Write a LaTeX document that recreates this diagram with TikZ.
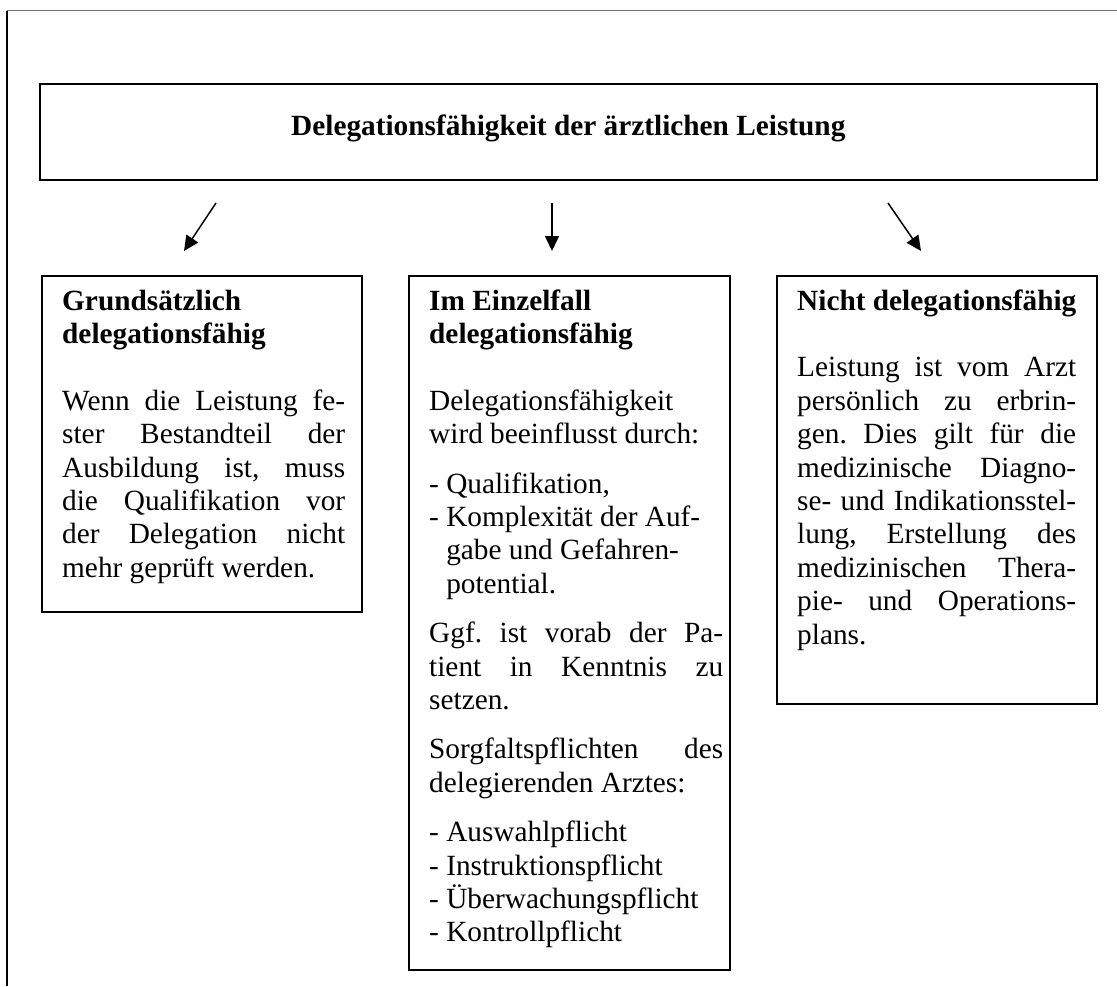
\documentclass[tikz,border=0pt]{standalone}
\usepackage{fontspec}
\setmainfont{Liberation Serif}
\usetikzlibrary{arrows.meta}
\frenchspacing
% one justified line of a given width
\newcommand{\jl}[2]{\makebox[#1][s]{#2}}
\begin{document}
\begin{tikzpicture}[x=1pt,y=-1pt,
  box/.style={draw=black, line width=1.6pt, inner sep=0pt, anchor=north west},
  txt/.style={anchor=north west, inner sep=0pt, align=left,
              font=\fontsize{29.3pt}{33.4pt}\selectfont},
  arr/.style={line width=1.5pt, -{Triangle[length=15pt,width=14pt]}}]
\useasboundingbox (0,0) rectangle (1117,986);

% page frame
\draw[black!55, line width=1.2pt] (7,10.5) -- (1117,10.5);
\draw[black, line width=1.2pt] (7,10.5) -- (7,986);

% boxes
\node[box, minimum width=1057pt, minimum height=96pt] (head) at (39,83) {};
\node[box, minimum width=320pt, minimum height=336pt] (lbox) at (41,275) {};
\node[box, minimum width=321pt, minimum height=694pt] (mbox) at (408,275) {};
\node[box, minimum width=320pt, minimum height=428pt] (rbox) at (776,275) {};

% title
\node[anchor=base, yshift=-4pt, inner sep=0pt,
      font=\fontsize{29.3pt}{33.4pt}\selectfont\bfseries] (title) at (head.center)
  {Delegationsfähigkeit der ärztlichen Leistung};

% arrows
\coordinate (a1s) at (216,203); \coordinate (a1e) at (184,251);
\coordinate (a2s) at (552,203); \coordinate (a2e) at (552,251);
\coordinate (a3s) at (888,203); \coordinate (a3e) at (921,251);
\draw[arr] (a1s) -- (a1e);
\draw[arr] (a2s) -- (a2e);
\draw[arr] (a3s) -- (a3e);

% left column
\node[txt] (ltext) at (62,286.6) {\strut\textbf{Grundsätzlich}\\
\textbf{delegationsfähig}\\[33.4pt]
\jl{283pt}{Wenn die Leistung fe-}\\
\jl{283pt}{ster Bestandteil der}\\
\jl{283pt}{Ausbildung ist, muss}\\
\jl{283pt}{die Qualifikation vor}\\
\jl{283pt}{der Delegation nicht}\\
mehr geprüft werden.};

% middle column
\node[txt] (mtext) at (429,286.6) {\strut\textbf{Im Einzelfall}\\
\textbf{delegationsfähig}\\[33.4pt]
Delegationsfähigkeit\\
wird beeinflusst durch:\\[16pt]
- Qualifikation,\\
- Komplexität der Auf-\\
\hphantom{-~}gabe und Gefahren-\\
\hphantom{-~}potential.\\[16pt]
\jl{294pt}{Ggf. ist vorab der Pa-}\\
\jl{294pt}{tient in Kenntnis zu}\\
setzen.\\[16pt]
\jl{294pt}{Sorgfaltspflichten des}\\
delegierenden Arztes:\\[16pt]
- Auswahlpflicht\\
- Instruktionspflicht\\
- Überwachungspflicht\\
- Kontrollpflicht};

% right column
\node[txt] (rtext) at (797,286.6) {\strut\textbf{Nicht delegationsfähig}\\[33.4pt]
\jl{279pt}{Leistung ist vom Arzt}\\
\jl{279pt}{persönlich zu erbrin-}\\
\jl{279pt}{gen. Dies gilt für die}\\
\jl{279pt}{medizinische Diagno-}\\
\jl{279pt}{se- und Indikationsstel-}\\
\jl{279pt}{lung, Erstellung des}\\
\jl{279pt}{medizinischen Thera-}\\
\jl{279pt}{pie- und Operations-}\\
plans.};
\end{tikzpicture}
\end{document}
